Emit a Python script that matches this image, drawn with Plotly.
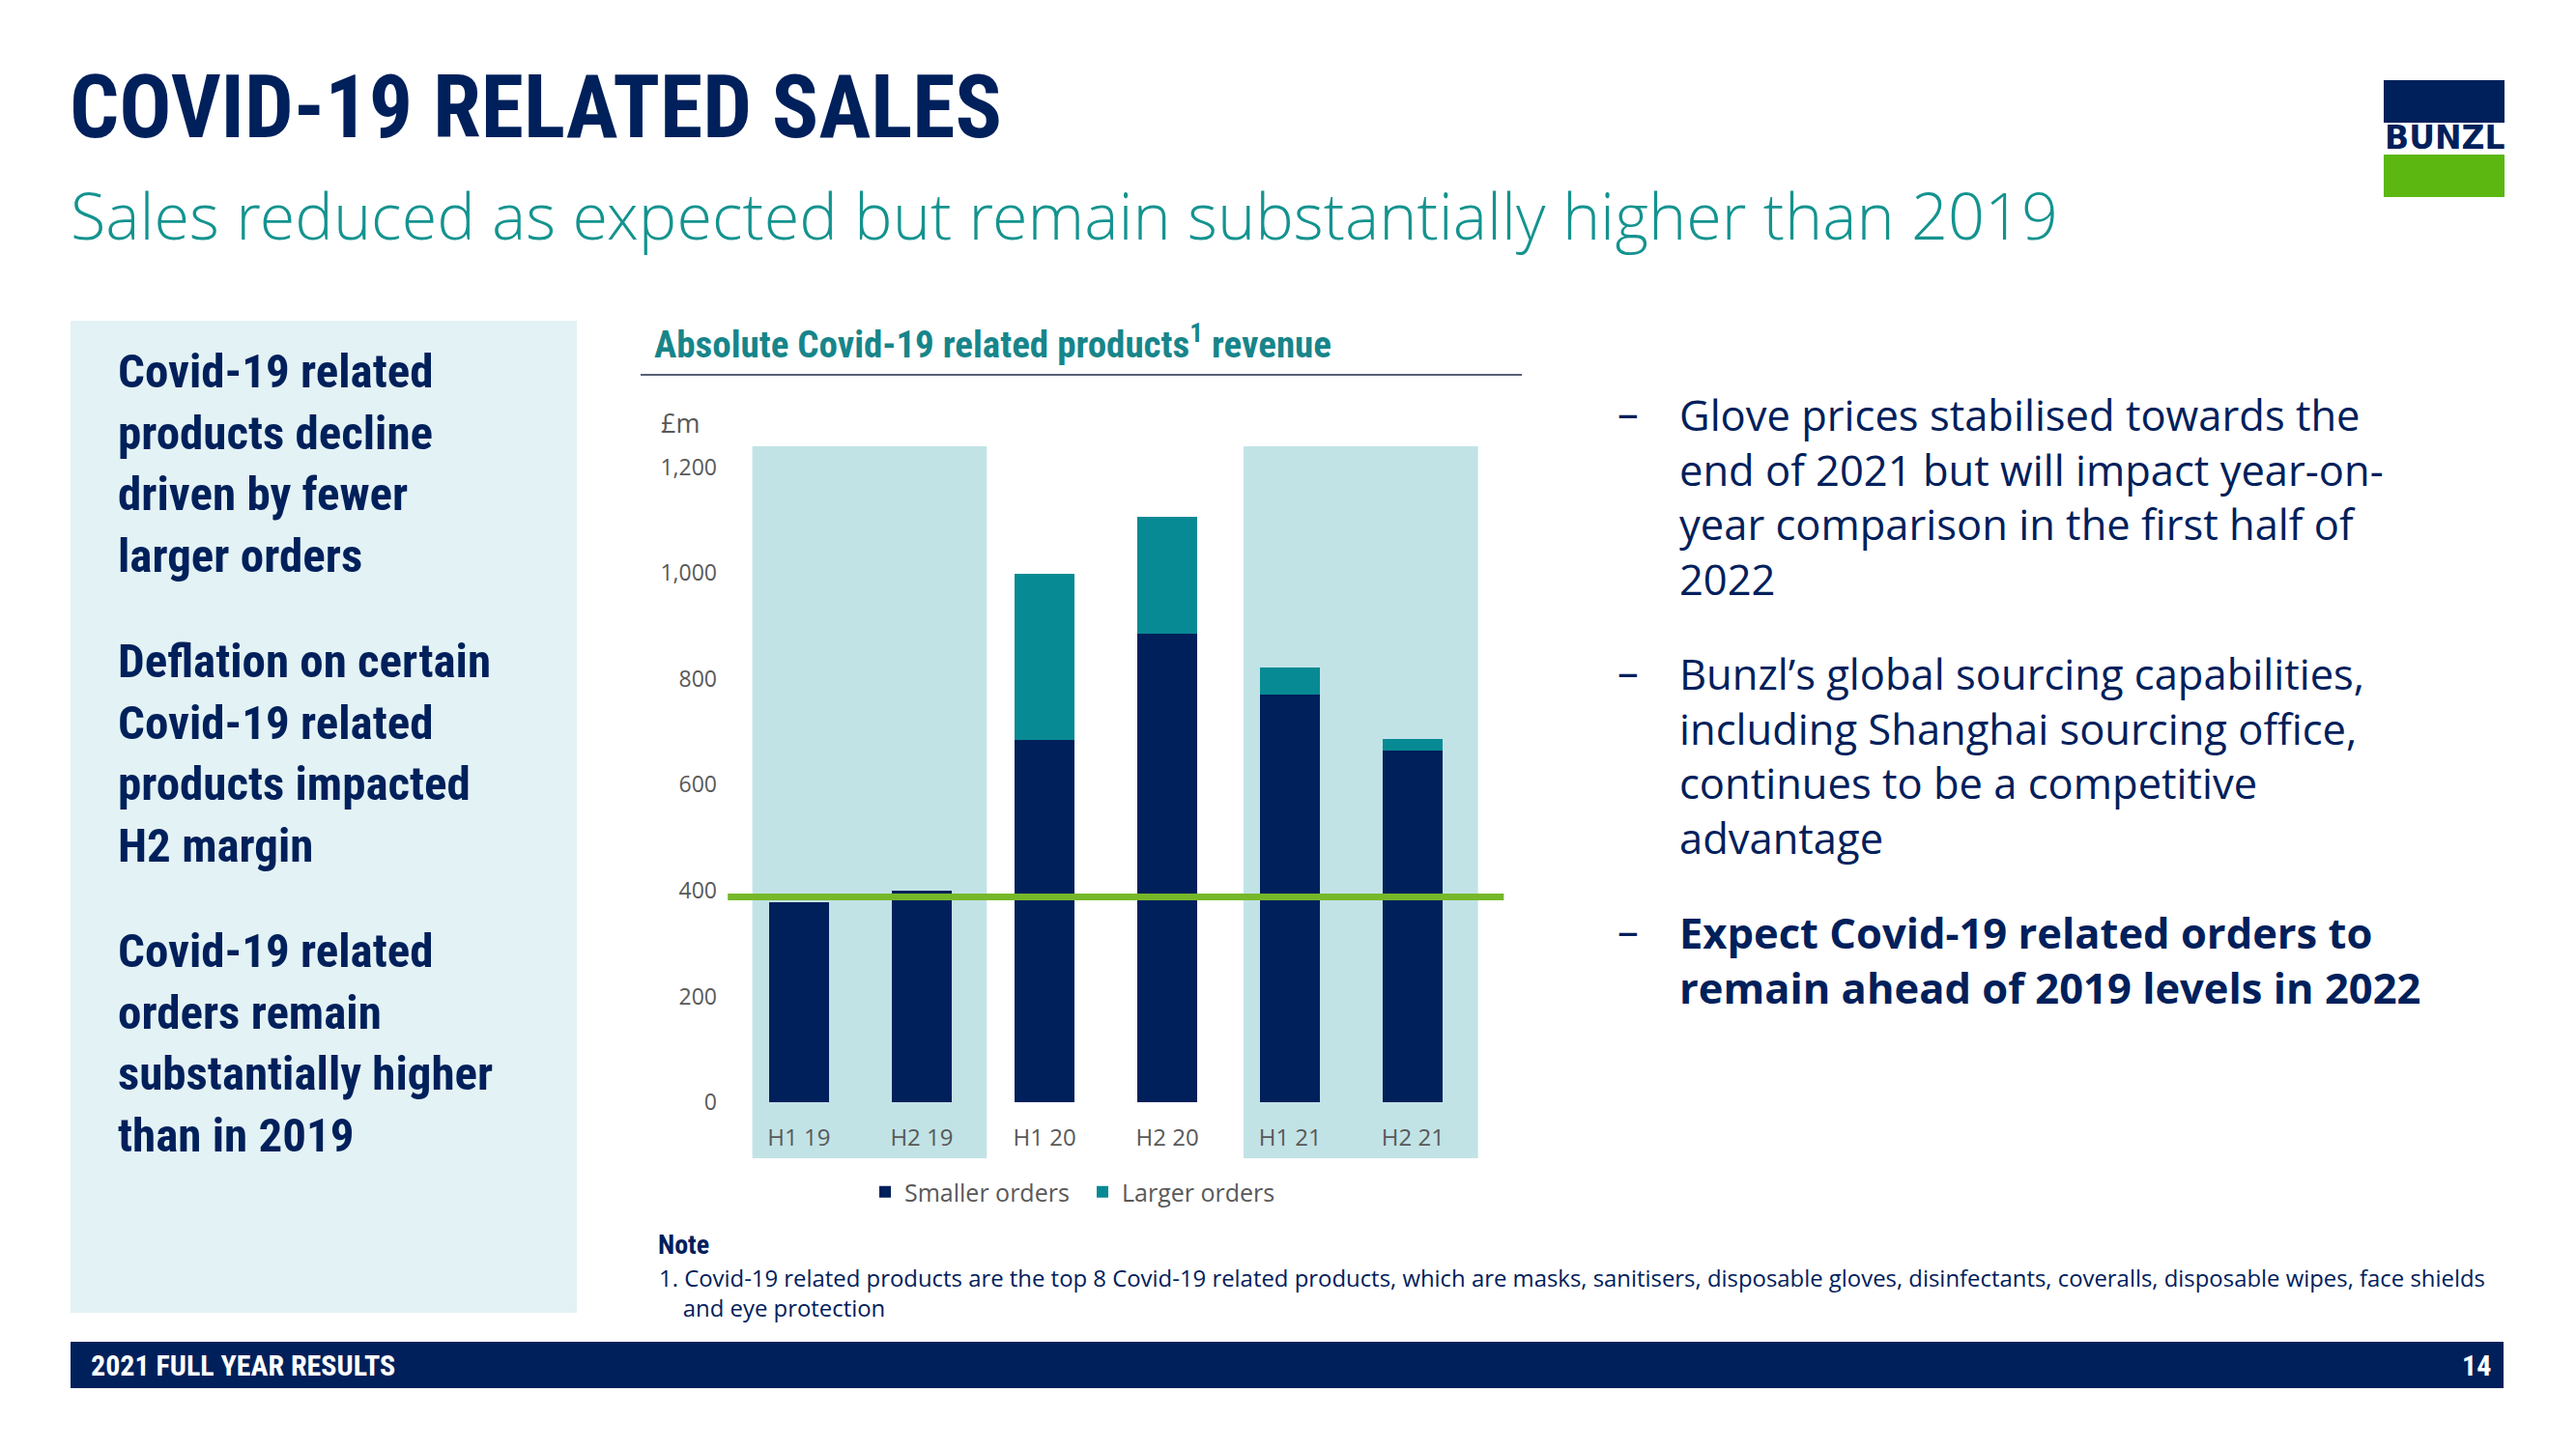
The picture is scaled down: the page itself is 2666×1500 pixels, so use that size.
import plotly.graph_objects as go

# ---------------- data ----------------
categories = ["H1 19", "H2 19", "H1 20", "H2 20", "H1 21", "H2 21"]
smaller_orders = [378, 399, 684, 886, 770, 665]
larger_orders = [0, 0, 315, 220, 52, 21]
level_2019 = 388
y_ticks = [0, 200, 400, 600, 800, 1000, 1200]
series_names = ["Smaller orders", "Larger orders"]

# ---------------- style ----------------
W, H = 2666, 1500
NAVY = "#00205B"
TEAL = "#078A93"
BAND = "#C2E3E6"
PANEL = "#E3F2F4"
GREEN = "#76B82A"
GREY = "#595959"
SUBTEAL = "#14938F"
COND = "Roboto Condensed, Roboto, sans-serif"
BODY = "Open Sans, Noto Sans, sans-serif"
NB = "\u00a0"


def px(x):
    return x / W


def py(y):
    return 1 - y / H


Y_RANGE = [-106, 1240]
X_RANGE = [-0.66, 5.8]
X_DOM = [px(743), px(1564)]
Y_DOM = [py(1199), py(462)]
x_axis_pos = Y_DOM[0] + (0 - Y_RANGE[0]) / (Y_RANGE[1] - Y_RANGE[0]) * (Y_DOM[1] - Y_DOM[0])

fig = go.Figure()
fig.add_trace(go.Bar(x=categories, y=smaller_orders, name=series_names[0],
                     marker=dict(color=NAVY, line=dict(width=0))))
fig.add_trace(go.Bar(x=categories, y=larger_orders, name=series_names[1],
                     marker=dict(color=TEAL, line=dict(width=0))))

shapes = []
# background bands for 2019 and 2021
for (a, b) in [(0, 1), (4, 5)]:
    shapes.append(dict(type="rect", xref="x", yref="y", x0=a - 0.38, x1=b + 0.53,
                       y0=Y_RANGE[0], y1=Y_RANGE[1], fillcolor=BAND, line=dict(width=0),
                       layer="below"))
# 2019 level line
shapes.append(dict(type="line", xref="x", yref="y", x0=-0.58, x1=5.74,
                   y0=level_2019, y1=level_2019, line=dict(color=GREEN, width=7),
                   layer="above"))
# left panel
shapes.append(dict(type="rect", xref="paper", yref="paper", x0=px(73), x1=px(597),
                   y0=py(1359), y1=py(332), fillcolor=PANEL, line=dict(width=0), layer="below"))
# footer bar
shapes.append(dict(type="rect", xref="paper", yref="paper", x0=px(73), x1=px(2591),
                   y0=py(1437), y1=py(1389), fillcolor=NAVY, line=dict(width=0), layer="below"))
# chart title underline
shapes.append(dict(type="line", xref="paper", yref="paper", x0=px(663), x1=px(1575),
                   y0=py(388), y1=py(388), line=dict(color="#1F2A44", width=1.5)))
# logo
shapes.append(dict(type="rect", xref="paper", yref="paper", x0=px(2467), x1=px(2592),
                   y0=py(127), y1=py(83), fillcolor=NAVY, line=dict(width=0)))
shapes.append(dict(type="rect", xref="paper", yref="paper", x0=px(2467), x1=px(2592),
                   y0=py(204), y1=py(160), fillcolor="#5CB811", line=dict(width=0)))

annotations = []


def note(text, x, y, size, color, family, xanchor="left", yanchor="middle"):
    annotations.append(dict(text=text, x=px(x), y=py(y), xref="paper", yref="paper",
                            xanchor=xanchor, yanchor=yanchor, showarrow=False, align="left",
                            font=dict(size=size, color=color, family=family)))


note("<b>COVID-19 RELATED SALES</b>", 70, 112, 90, NAVY, COND)
note("Sales reduced as expected but remain substantially higher than 2019", 71, 222, 66.5,
     SUBTEAL, "Open Sans Light, " + BODY)
note("<b>BUNZL</b>", 2530, 142, 33, NAVY, "DejaVu Sans, sans-serif", xanchor="center")

left_paras = [
    (["Covid-19 related", "products decline", "driven by fewer", "larger orders"], 480),
    (["Deflation on certain", "Covid-19 related", "products impacted", "H2 margin"], 780),
    (["Covid-19 related", "orders remain", "substantially higher", "than in 2019"], 1080),
]
for lines, yc in left_paras:
    note("<br>".join("<b>" + t + "</b>" for t in lines), 120, yc, 49, NAVY, COND)

note("<b>Absolute Covid-19 related products<sup>1</sup> revenue</b>", 675, 354, 39, "#17858A", COND)
note("£m", 682, 437, 27, GREY, BODY)

RSIZE = 43.5
right_paras = [
    (["Glove prices stabilised towards the", "end of 2021 but will impact year-on-",
      "year comparison in the first half of", "2022"], 514),
    (["Bunzl’s global sourcing capabilities,", "including Shanghai sourcing office,",
      "continues to be a competitive", "advantage"], 782),
    (["<b>Expect Covid-19 related orders to</b>", "<b>remain ahead of 2019 levels in 2022</b>"], 994),
]
for lines, yc in right_paras:
    note("<br>".join(lines), 1736, yc, RSIZE, NAVY, BODY)
    first_line_y = yc - (len(lines) - 1) / 2 * 1.3 * RSIZE
    note("–", 1672, first_line_y - 3, RSIZE, NAVY, BODY)

note("<b>Note</b>", 679, 1288, 28, NAVY, COND)
note("1. Covid-19 related products are the top 8 Covid-19 related products, which are masks, "
     "sanitisers, disposable gloves, disinfectants, coveralls, disposable wipes, face shields"
     "<br>" + NB * 4 + "and eye protection",
     680, 1338, 23.9, NAVY, BODY)

note("<b>2021 FULL YEAR RESULTS</b>", 92, 1413, 30, "white", COND)
note("<b>14</b>", 2580, 1413, 30, "white", COND, xanchor="right")

fig.update_layout(
    width=W, height=H, margin=dict(l=0, r=0, t=0, b=0),
    paper_bgcolor="white", plot_bgcolor="rgba(0,0,0,0)",
    barmode="stack", bargap=0.514,
    shapes=shapes, annotations=annotations,
    showlegend=True,
    legend=dict(orientation="h", x=px(896), y=py(1234), xanchor="left", yanchor="middle",
                font=dict(size=25, color=GREY, family=BODY), traceorder="normal",
                bgcolor="rgba(0,0,0,0)", itemwidth=30,
                entrywidth=180, entrywidthmode="pixels"),
    xaxis=dict(domain=X_DOM, range=X_RANGE, anchor="free", position=x_axis_pos,
               showgrid=False, zeroline=False, showline=False,
               ticks="outside", ticklen=15, tickcolor="rgba(0,0,0,0)",
               tickfont=dict(size=24, color=GREY, family=BODY), fixedrange=True),
    yaxis=dict(domain=Y_DOM, range=Y_RANGE, tickvals=y_ticks, tickformat=",",
               showgrid=False, zeroline=False, showline=False, ticks="",
               tickfont=dict(size=23, color=GREY, family=BODY), fixedrange=True),
)

fig.write_html("out.html", config={"displayModeBar": False},
               post_script="document.body.style.margin='0';document.body.style.overflow='hidden';")
